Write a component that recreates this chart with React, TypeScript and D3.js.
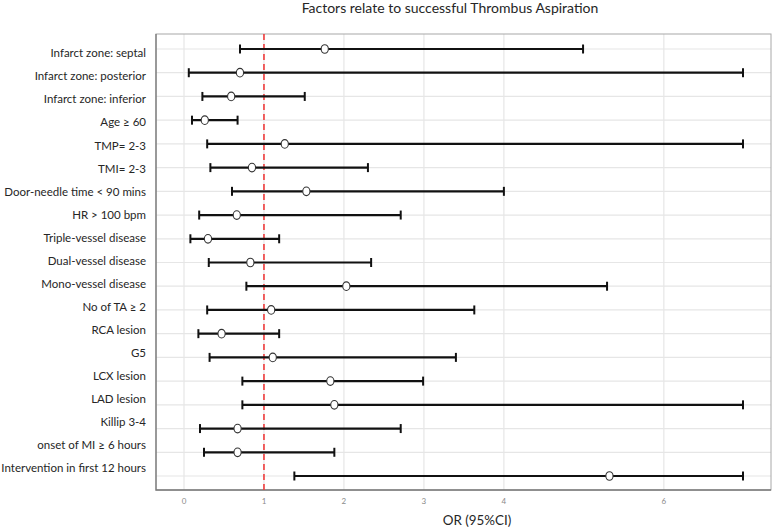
import { useEffect, useRef } from 'react';
import * as d3 from 'd3';

const factors = [
  'Infarct zone: septal',
  'Infarct zone: posterior',
  'Infarct zone: inferior',
  'Age ≥ 60',
  'TMP= 2-3',
  'TMI= 2-3',
  'Door-needle time < 90 mins',
  'HR > 100 bpm',
  'Triple-vessel disease',
  'Dual-vessel disease',
  'Mono-vessel disease',
  'No of TA ≥ 2',
  'RCA lesion',
  'G5',
  'LCX lesion',
  'LAD lesion',
  'Killip 3-4',
  'onset of MI ≥ 6 hours',
  'Intervention in first 12 hours',
];

const oddsRatio = [1.76, 0.7, 0.59, 0.26, 1.26, 0.85, 1.53, 0.66, 0.3, 0.83, 2.03, 1.09, 0.47, 1.11, 1.83, 1.88, 0.67, 0.67, 5.32];
const lowerCI = [0.7, 0.06, 0.23, 0.1, 0.29, 0.33, 0.6, 0.19, 0.08, 0.31, 0.78, 0.29, 0.18, 0.32, 0.73, 0.73, 0.2, 0.25, 1.38];
const upperCI = [4.99, 6.99, 1.51, 0.67, 6.99, 2.3, 4.0, 2.71, 1.19, 2.34, 5.29, 3.63, 1.19, 3.4, 2.99, 6.99, 2.71, 1.88, 6.99];

const xTicks = [0, 1, 2, 3, 4, 6];
const referenceOR = 1;

const chartTitle = 'Factors relate to successful Thrombus Aspiration';
const xTitle = 'OR (95%CI)';

export default function App() {
  const svgRef = useRef<SVGSVGElement>(null);

  useEffect(() => {
    if (!svgRef.current) return;
    const svg = d3.select(svgRef.current);
    svg.selectAll('*').remove();

    const width = 774;
    const height = 529;
    const panel = { left: 156, right: 771, top: 34, bottom: 490 };
    const font = 'Lato, "Open Sans", sans-serif';

    svg.attr('width', width).attr('height', height);

    const x = d3.scaleLinear().domain([-0.35, 7.34]).range([panel.left, panel.right]);

    // rows and their labels sit on slightly different spacing in the original
    const y = d3.scalePoint<string>().domain(factors).range([49, 476]);
    const yLabel = d3.scalePoint<string>().domain(factors).range([53.3, 468.3]);

    const data = factors.map((f, i) => ({
      factor: f,
      or: oddsRatio[i],
      lo: lowerCI[i],
      hi: upperCI[i],
    }));

    svg.append('rect')
      .attr('width', width)
      .attr('height', height)
      .attr('fill', '#ffffff');

    const g = svg.append('g');

    // grid
    g.selectAll('.hgrid')
      .data(factors)
      .join('line')
      .attr('class', 'hgrid')
      .attr('x1', panel.left)
      .attr('x2', panel.right)
      .attr('y1', d => y(d)!)
      .attr('y2', d => y(d)!)
      .attr('stroke', '#e6e6e6')
      .attr('stroke-width', 1.2);

    g.selectAll('.vgrid')
      .data(xTicks)
      .join('line')
      .attr('class', 'vgrid')
      .attr('x1', d => x(d))
      .attr('x2', d => x(d))
      .attr('y1', panel.top)
      .attr('y2', panel.bottom)
      .attr('stroke', '#e6e6e6')
      .attr('stroke-width', 1.2);

    // panel border
    g.append('rect')
      .attr('x', panel.left)
      .attr('y', panel.top)
      .attr('width', panel.right - panel.left)
      .attr('height', panel.bottom - panel.top)
      .attr('fill', 'none')
      .attr('stroke', '#a8a8a8')
      .attr('stroke-width', 1);

    g.append('path')
      .attr('d', `M${panel.left},${panel.top}V${panel.bottom}H${panel.right}`)
      .attr('fill', 'none')
      .attr('stroke', '#7a7a7a')
      .attr('stroke-width', 1.3);

    // reference line
    g.append('line')
      .attr('x1', x(referenceOR))
      .attr('x2', x(referenceOR))
      .attr('y1', panel.top)
      .attr('y2', panel.bottom)
      .attr('stroke', '#f03c3c')
      .attr('stroke-width', 1.6)
      .attr('stroke-dasharray', '6,4');

    // error bars
    const bars = g.selectAll('.bar')
      .data(data)
      .join('g')
      .attr('class', 'bar');

    bars.append('line')
      .attr('x1', d => x(d.lo))
      .attr('x2', d => x(d.hi))
      .attr('y1', d => y(d.factor)!)
      .attr('y2', d => y(d.factor)!)
      .attr('stroke', '#111111')
      .attr('stroke-width', 2.2);

    bars.append('line')
      .attr('x1', d => x(d.lo))
      .attr('x2', d => x(d.lo))
      .attr('y1', d => y(d.factor)! - 4.5)
      .attr('y2', d => y(d.factor)! + 4.5)
      .attr('stroke', '#111111')
      .attr('stroke-width', 2);

    bars.append('line')
      .attr('x1', d => x(d.hi))
      .attr('x2', d => x(d.hi))
      .attr('y1', d => y(d.factor)! - 4.5)
      .attr('y2', d => y(d.factor)! + 4.5)
      .attr('stroke', '#111111')
      .attr('stroke-width', 2);

    bars.append('ellipse')
      .attr('cx', d => x(d.or))
      .attr('cy', d => y(d.factor)!)
      .attr('rx', 3.6)
      .attr('ry', 4.3)
      .attr('fill', '#ffffff')
      .attr('stroke', '#333333')
      .attr('stroke-width', 1.1);

    // y labels
    g.selectAll('.ylab')
      .data(factors)
      .join('text')
      .attr('class', 'ylab')
      .attr('x', 146)
      .attr('y', d => yLabel(d)!)
      .attr('dy', '0.35em')
      .attr('text-anchor', 'end')
      .style('font-family', font)
      .style('font-size', '11.5px')
      .style('fill', '#262626')
      .text(d => d);

    // x tick labels
    g.selectAll('.xlab')
      .data(xTicks)
      .join('text')
      .attr('class', 'xlab')
      .attr('x', d => x(d))
      .attr('y', 501)
      .attr('dy', '0.35em')
      .attr('text-anchor', 'middle')
      .style('font-family', font)
      .style('font-size', '8px')
      .style('fill', '#8a8a8a')
      .text(d => String(d));

    // titles
    svg.append('text')
      .attr('x', 450)
      .attr('y', 8)
      .attr('dy', '0.35em')
      .attr('text-anchor', 'middle')
      .style('font-family', font)
      .style('font-size', '14px')
      .style('fill', '#262626')
      .text(chartTitle);

    svg.append('text')
      .attr('x', 477)
      .attr('y', 520)
      .attr('dy', '0.35em')
      .attr('text-anchor', 'middle')
      .style('font-family', font)
      .style('font-size', '13.4px')
      .style('fill', '#262626')
      .text(xTitle);
  }, []);

  return (
    <div style={{ position: 'absolute', left: 0, top: 0 }}>
      <svg ref={svgRef} style={{ display: 'block' }} />
    </div>
  );
}
